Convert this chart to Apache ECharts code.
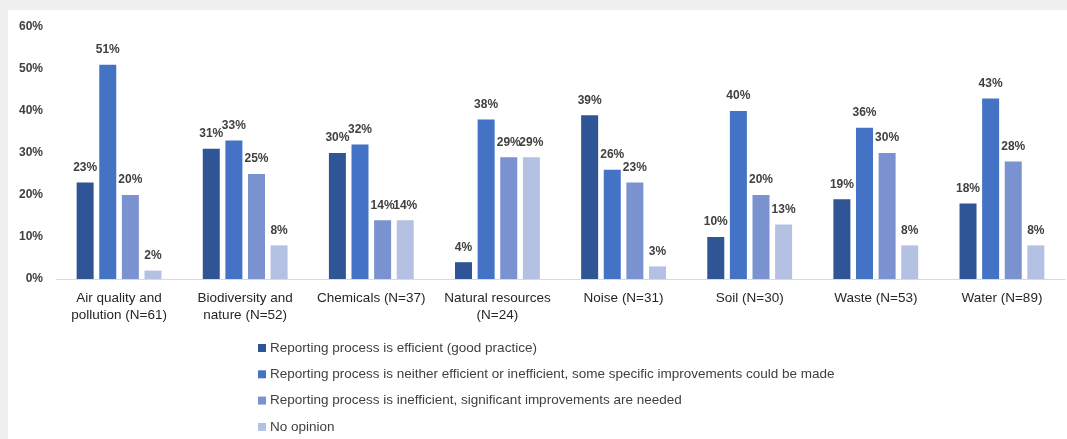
<!DOCTYPE html>
<html>
<head>
<meta charset="utf-8">
<script src="https://cdn.jsdelivr.net/npm/echarts@6/dist/echarts.min.js"></script>
<style>
  html, body { margin: 0; padding: 0; background: #f0f0f0; width: 1067px; height: 439px; overflow: hidden; }
  #chart { position: absolute; left: 8px; top: 10px; width: 1059px; height: 429px; background: #ffffff; }
</style>
</head>
<body>
<div id="chart"></div>
<script>
// Categories (topic, with number of respondents)
const categories = [
  'Air quality and\npollution (N=61)',
  'Biodiversity and\nnature (N=52)',
  'Chemicals (N=37)',
  'Natural resources\n(N=24)',
  'Noise (N=31)',
  'Soil (N=30)',
  'Waste (N=53)',
  'Water (N=89)'
];

// Share of answers per category, in percent
const efficient   = [23, 31, 30, 4, 39, 10, 19, 18];
const neither     = [51, 33, 32, 38, 26, 40, 36, 43];
const inefficient = [20, 25, 14, 29, 23, 20, 30, 28];
const noOpinion   = [2, 8, 14, 29, 3, 13, 8, 8];

const seriesNames = [
  'Reporting process is efficient (good practice)',
  'Reporting process is neither efficient or inefficient, some specific improvements could be made',
  'Reporting process is inefficient, significant improvements are needed',
  'No opinion'
];
const seriesData = [efficient, neither, inefficient, noOpinion];
const colors = ['#2F5597', '#4472C4', '#7A92CF', '#B4C1E3'];

const FONT = '"Liberation Sans", Arial, sans-serif';

const chart = echarts.init(document.getElementById('chart'), null, { renderer: 'canvas' });

chart.setOption({
  animation: false,
  color: colors,
  textStyle: { fontFamily: FONT },
  grid: { left: 48, right: 2, top: 17, bottom: 160, containLabel: false },
  legend: {
    orient: 'vertical',
    left: 250,
    top: 330,
    padding: 0,
    itemWidth: 8,
    itemHeight: 8,
    itemGap: 10.3,
    icon: 'rect',
    textStyle: { fontSize: 13.5, lineHeight: 16, color: '#404040', fontFamily: FONT, padding: [0, 0, 0, -1] },
    data: seriesNames
  },
  xAxis: {
    type: 'category',
    data: categories,
    axisLine: { show: true, lineStyle: { color: '#d9d9d9', width: 1 } },
    axisTick: { show: false },
    axisLabel: {
      interval: 0,
      margin: 11,
      fontSize: 13.5,
      lineHeight: 17,
      color: '#262626',
      fontFamily: FONT
    }
  },
  yAxis: {
    type: 'value',
    min: 0,
    max: 60,
    interval: 10,
    axisLine: { show: false },
    axisTick: { show: false },
    splitLine: { show: false },
    axisLabel: {
      formatter: '{value}%',
      margin: 13,
      fontSize: 12,
      fontWeight: 'bold',
      color: '#404040',
      fontFamily: FONT
    }
  },
  series: seriesData.map((d, i) => ({
    name: seriesNames[i],
    type: 'bar',
    data: d,
    barWidth: 17,
    barGap: '33%',
    label: {
      show: true,
      position: 'top',
      distance: 9,
      formatter: '{c}%',
      fontSize: 12,
      fontWeight: 'bold',
      color: '#404040',
      fontFamily: FONT
    }
  }))
});
</script>
</body>
</html>
